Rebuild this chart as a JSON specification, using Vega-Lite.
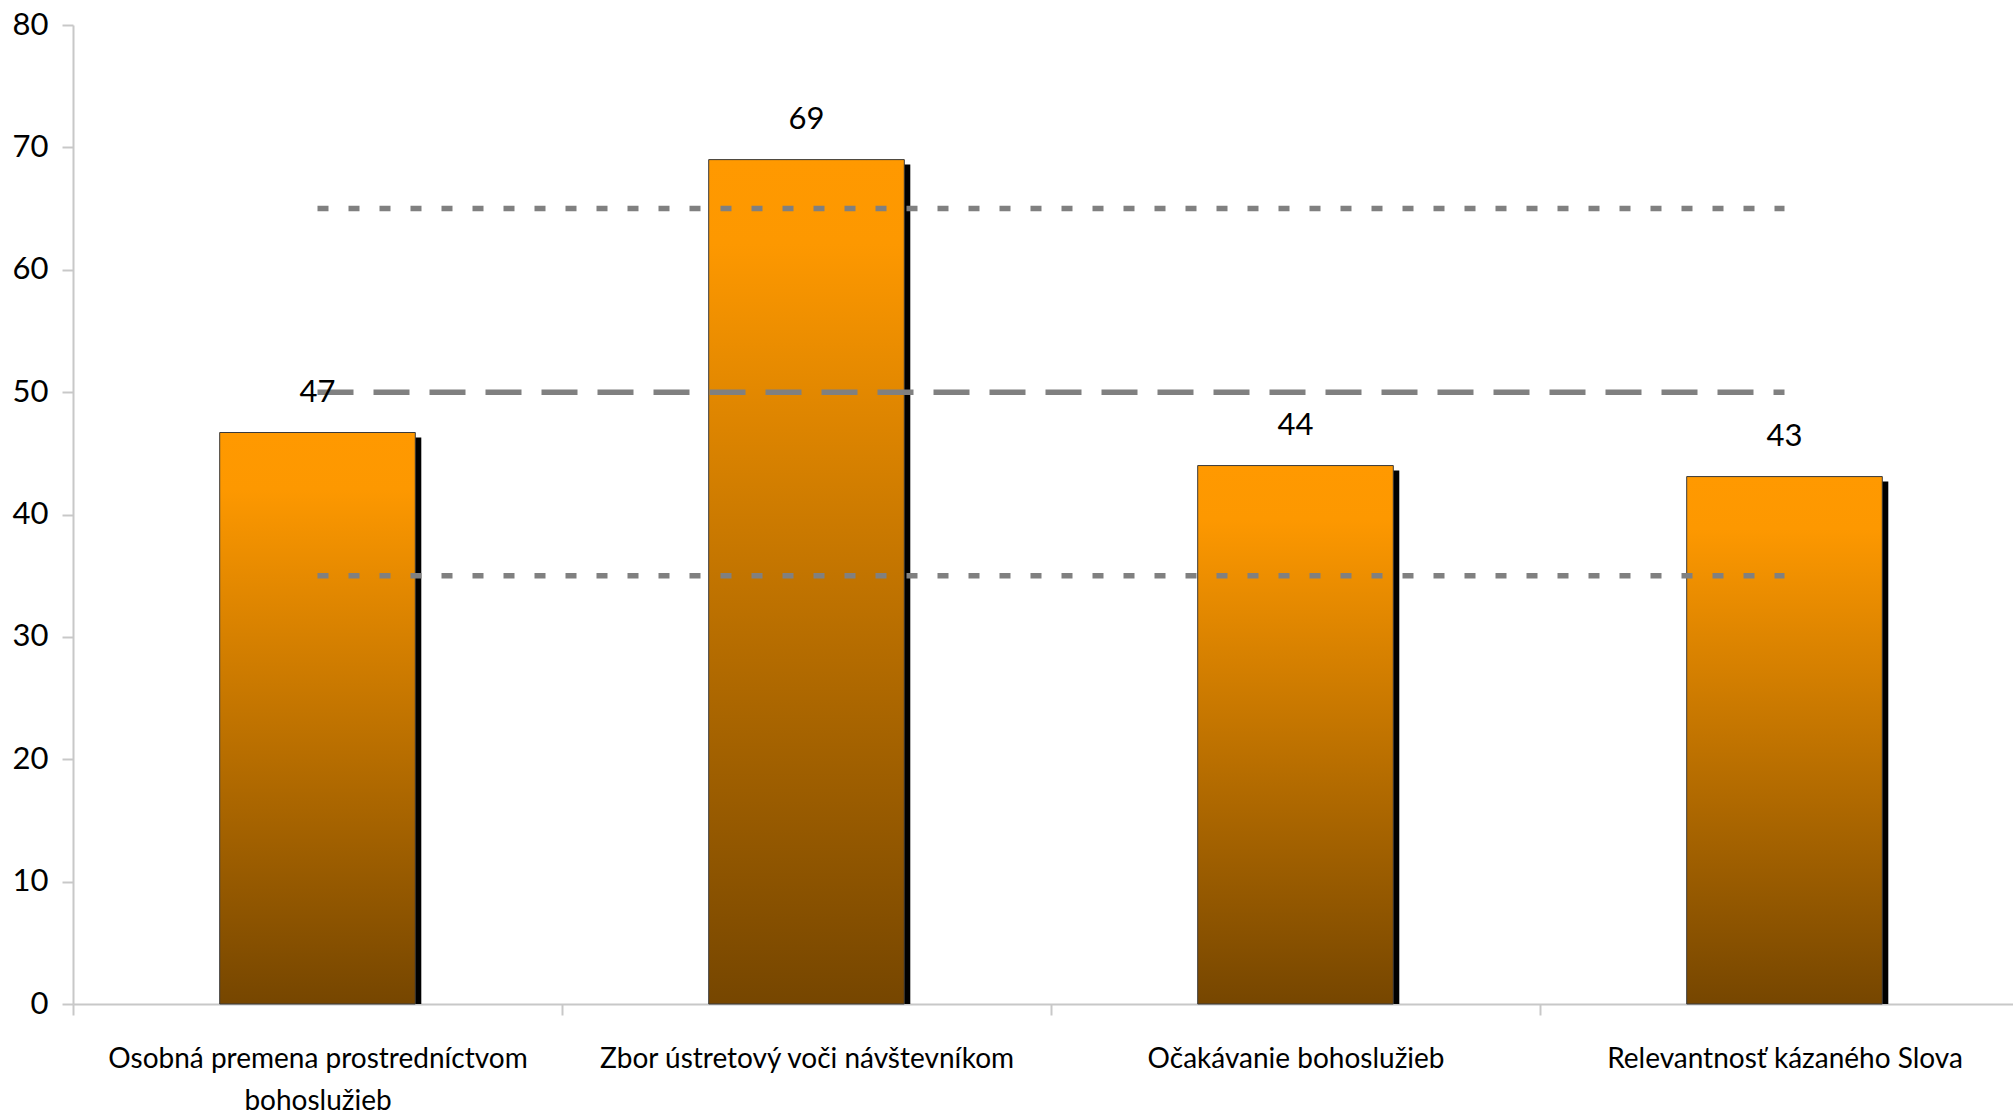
{
  "$schema": "https://vega.github.io/schema/vega-lite/v6.json",
  "width": 1940,
  "height": 979,
  "autosize": {"type": "none"},
  "padding": {"left": 73, "top": 25, "right": 0, "bottom": 112},
  "background": "white",
  "config": {"view": {"stroke": null}, "font": "Lato"},
  "datasets": {
    "stlpce": [
      {"kategoria": "Osobná premena prostredníctvom bohoslužieb", "hodnota": 46.7},
      {"kategoria": "Zbor ústretový voči návštevníkom", "hodnota": 69.0},
      {"kategoria": "Očakávanie bohoslužieb", "hodnota": 44.0},
      {"kategoria": "Relevantnosť kázaného Slova", "hodnota": 43.1}
    ],
    "ciary": [
      {"kategoria": "Osobná premena prostredníctvom bohoslužieb", "uroven": 65, "ciara": "horná", "typ": "bodky"},
      {"kategoria": "Zbor ústretový voči návštevníkom", "uroven": 65, "ciara": "horná", "typ": "bodky"},
      {"kategoria": "Očakávanie bohoslužieb", "uroven": 65, "ciara": "horná", "typ": "bodky"},
      {"kategoria": "Relevantnosť kázaného Slova", "uroven": 65, "ciara": "horná", "typ": "bodky"},
      {"kategoria": "Osobná premena prostredníctvom bohoslužieb", "uroven": 50, "ciara": "stredná", "typ": "čiarky"},
      {"kategoria": "Zbor ústretový voči návštevníkom", "uroven": 50, "ciara": "stredná", "typ": "čiarky"},
      {"kategoria": "Očakávanie bohoslužieb", "uroven": 50, "ciara": "stredná", "typ": "čiarky"},
      {"kategoria": "Relevantnosť kázaného Slova", "uroven": 50, "ciara": "stredná", "typ": "čiarky"},
      {"kategoria": "Osobná premena prostredníctvom bohoslužieb", "uroven": 35, "ciara": "dolná", "typ": "bodky"},
      {"kategoria": "Zbor ústretový voči návštevníkom", "uroven": 35, "ciara": "dolná", "typ": "bodky"},
      {"kategoria": "Očakávanie bohoslužieb", "uroven": 35, "ciara": "dolná", "typ": "bodky"},
      {"kategoria": "Relevantnosť kázaného Slova", "uroven": 35, "ciara": "dolná", "typ": "bodky"}
    ]
  },
  "layer": [
    {
      "data": {"name": "stlpce"},
      "mark": {"type": "bar", "color": "black", "xOffset": 6, "yOffset": 5, "clip": true, "width": {"band": 0.4}},
      "encoding": {
        "x": {
          "field": "kategoria", "type": "nominal", "sort": null,
          "scale": {"range": [0, 1956], "paddingInner": 0, "paddingOuter": 0},
          "axis": {
            "title": null, "labelAngle": 0, "tickBand": "extent",
            "domainColor": "#C8C8C8", "domainWidth": 2,
            "tickColor": "#C8C8C8", "tickWidth": 2, "tickSize": 11,
            "labelFont": "Lato", "labelFontSize": 28, "labelColor": "black",
            "labelLineHeight": 42, "labelPadding": 30, "labelLimit": 800,
            "labelExpr": "datum.label == 'Osobná premena prostredníctvom bohoslužieb' ? ['Osobná premena prostredníctvom', 'bohoslužieb'] : datum.label"
          }
        },
        "y": {
          "field": "hodnota", "type": "quantitative",
          "scale": {"domain": [0, 80], "nice": false},
          "axis": {
            "title": null, "values": [0, 10, 20, 30, 40, 50, 60, 70, 80], "grid": false,
            "domainColor": "#C8C8C8", "domainWidth": 2,
            "tickColor": "#C8C8C8", "tickWidth": 2, "tickSize": 11,
            "labelFont": "Lato", "labelFontSize": 31, "labelColor": "black",
            "labelPadding": 14
          }
        }
      }
    },
    {
      "data": {"name": "stlpce"},
      "mark": {
        "type": "bar", "stroke": "#3a3a3a", "strokeWidth": 1, "width": {"band": 0.4},
        "color": {
          "gradient": "linear", "x1": 0, "y1": 0, "x2": 0, "y2": 1,
          "stops": [
            {"offset": 0, "color": "#FF9900"},
            {"offset": 0.1, "color": "#FD9800"},
            {"offset": 1, "color": "#764600"}
          ]
        }
      },
      "encoding": {
        "x": {"field": "kategoria", "type": "nominal", "sort": null},
        "y": {"field": "hodnota", "type": "quantitative"}
      }
    },
    {
      "data": {"name": "ciary"},
      "mark": {"type": "line", "color": "#808080", "strokeWidth": 5.5, "strokeCap": "butt"},
      "encoding": {
        "x": {"field": "kategoria", "type": "nominal", "sort": null},
        "y": {"field": "uroven", "type": "quantitative"},
        "detail": {"field": "ciara", "type": "nominal"},
        "strokeDash": {
          "field": "typ", "type": "nominal",
          "scale": {"domain": ["bodky", "čiarky"], "range": [[11, 20], [36, 20]]},
          "legend": null
        }
      }
    },
    {
      "data": {"name": "stlpce"},
      "mark": {"type": "text", "baseline": "alphabetic", "dy": -31, "fontSize": 31, "font": "Lato", "color": "black"},
      "encoding": {
        "x": {"field": "kategoria", "type": "nominal", "sort": null},
        "y": {"field": "hodnota", "type": "quantitative"},
        "text": {"field": "hodnota", "type": "quantitative", "format": ".0f"}
      }
    }
  ]
}
